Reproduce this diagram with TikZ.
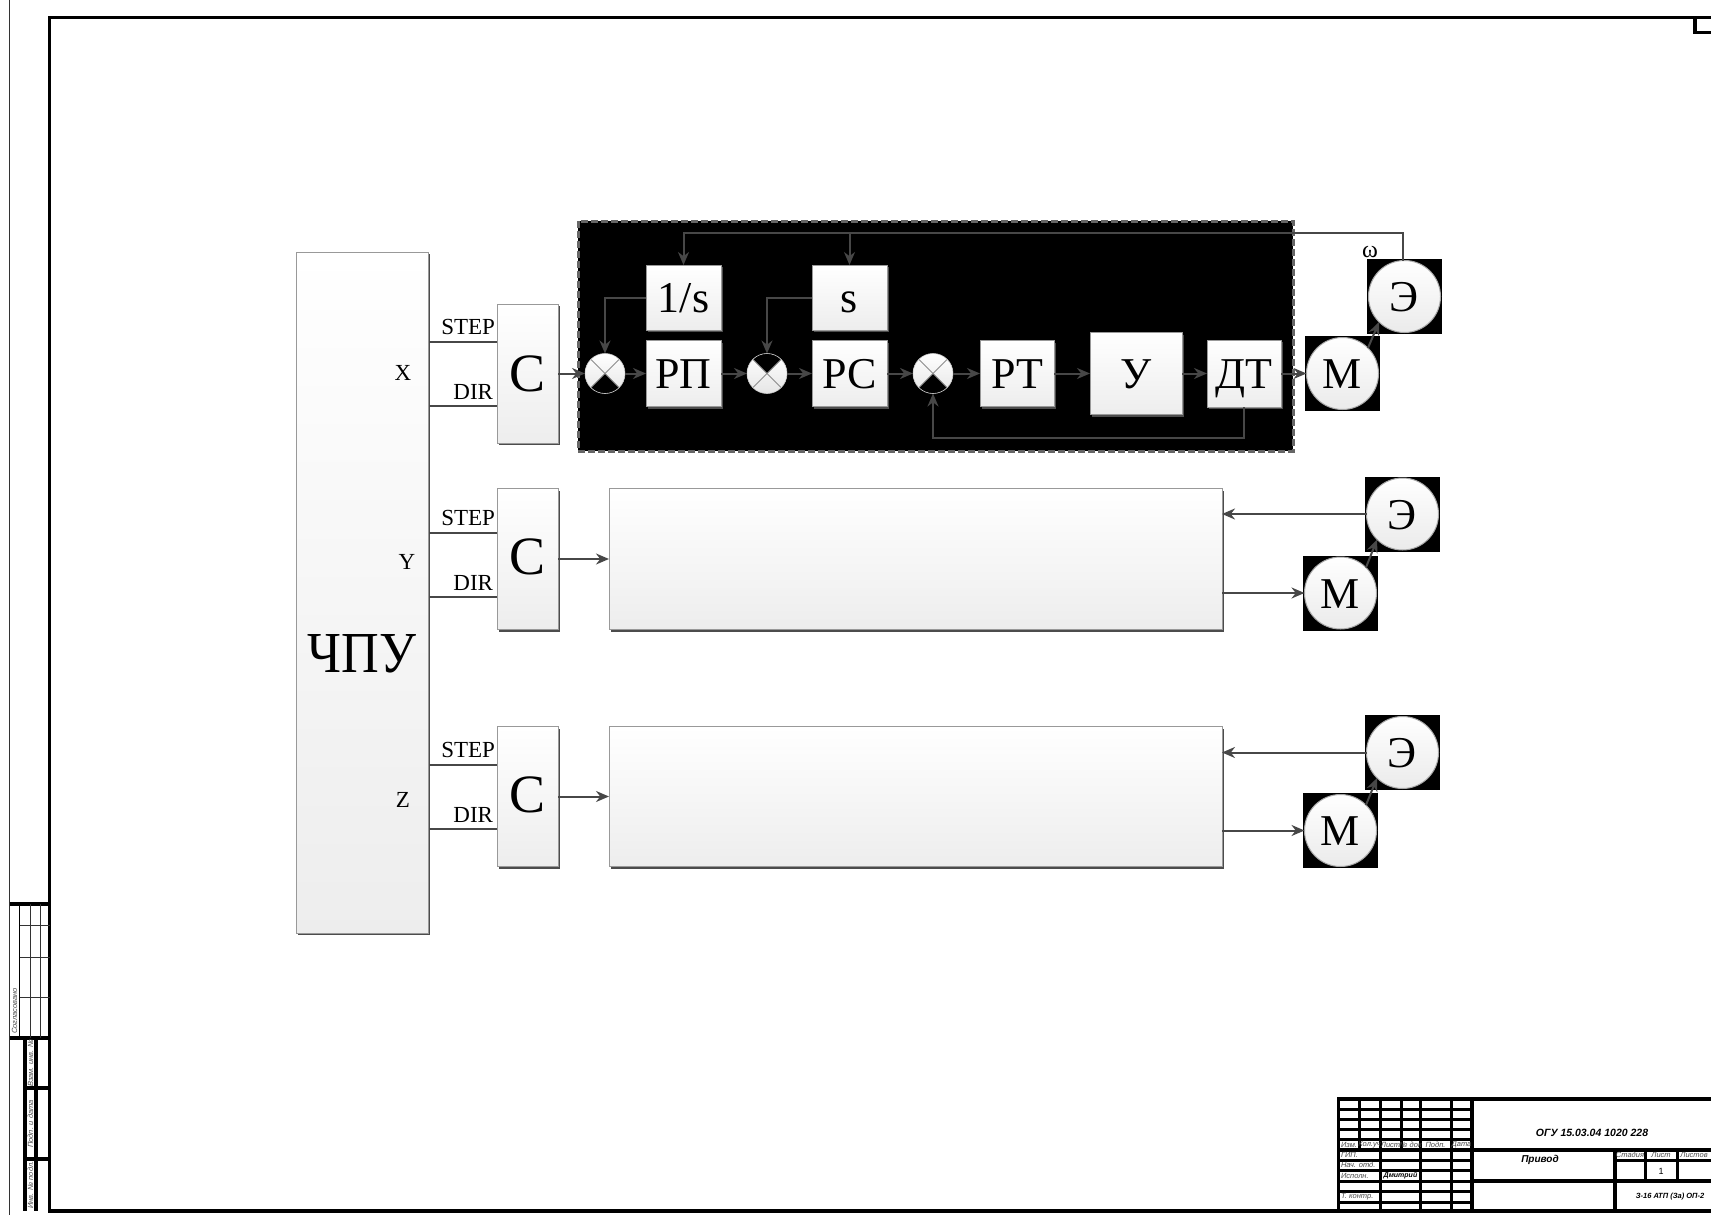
\documentclass[tikz,border=0pt]{standalone}
\usepackage{fontspec}
\setmainfont{Liberation Serif}
\setsansfont{Liberation Sans}
\usetikzlibrary{arrows.meta,shadows}
\tikzset{
  blockbox/.style={rectangle,draw=black!40,line width=.9pt,inner sep=0pt,outer sep=0pt,
    top color=white,bottom color=black!7,
    drop shadow={shadow xshift=2pt,shadow yshift=-2pt,fill=black!70,opacity=1},
    text height=30pt,text depth=0pt,
    font=\fontsize{44}{44}\selectfont},
  letterbox/.style={blockbox,text height=36pt,font=\fontsize{54}{54}\selectfont},
  disc/.style={circle,draw=black!35,line width=1pt,inner sep=0pt,outer sep=0pt,minimum size=72pt,
    top color=white,bottom color=black!8,
    text height=30pt,text depth=0pt,font=\fontsize{44}{44}\selectfont},
  backsquare/.style={rectangle,fill=black,inner sep=0pt,outer sep=0pt,minimum size=75pt},
  sumnode/.style={circle,draw=black!20,line width=.6pt,inner sep=0pt,outer sep=0pt,minimum size=40pt,
    top color=white,bottom color=black!10,
    path picture={
      \fill[black] (path picture bounding box.#1 west) -- (path picture bounding box.center)
        -- (path picture bounding box.#1 east) -- cycle;
      \draw[black!45,line width=.8pt] (path picture bounding box.north west) -- (path picture bounding box.south east);
      \draw[black!45,line width=.8pt] (path picture bounding box.north east) -- (path picture bounding box.south west);
    }},
  arrowline/.style={draw=black!72,line width=2pt,-{Stealth[length=13pt,width=11pt]}},
  plainline/.style={draw=black!72,line width=2pt},
  signal/.style={font=\fontsize{23}{23}\selectfont,inner sep=0pt,outer sep=0pt},
  frameline/.style={line width=3.2pt,black},
  gridline/.style={line width=3pt,black},
  thinline/.style={line width=1pt,black!80},
  stamp/.style={font=\sffamily\itshape\fontsize{7.5}{7.5}\selectfont,text=black!70,inner sep=0pt,outer sep=0pt},
  stampbold/.style={font=\sffamily\bfseries\itshape\fontsize{#1}{#1}\selectfont,inner sep=0pt,outer sep=0pt},
}
\begin{document}
\begin{tikzpicture}[x=1pt,y=-1pt]
  \useasboundingbox (0,0) rectangle (1711,1215);
  \fill[white] (0,0) rectangle (1711,1215);

  % sheet frame
  \draw[thinline] (9.5,0) -- (9.5,1215);
  \draw[frameline] (1711,17.5) -- (49.5,17.5) -- (49.5,1211) -- (1711,1211);
  \draw[frameline] (1695,17.5) -- (1695,32.5) -- (1711,32.5);

  % left margin stamp
  \draw[frameline] (9.5,904) -- (49.5,904);
  \draw[frameline] (9.5,1038) -- (49.5,1038);
  \draw[line width=1.6pt] (19.5,904) -- (19.5,1038);
  \draw[thinline] (30,904) -- (30,1038);
  \draw[thinline] (40,904) -- (40,1038);
  \foreach \yy in {925,957,997} \draw[thinline] (19.5,\yy) -- (49.5,\yy);
  \draw[frameline] (25,1038) -- (25,1211);
  \draw[frameline] (36,1038) -- (36,1211);
  \draw[frameline] (25,1088) -- (49.5,1088);
  \draw[frameline] (25,1159) -- (49.5,1159);
  \node[stamp,rotate=90] (agreed) at (14.5,1011) {Согласовано};
  \node[stamp,rotate=90] (inv1) at (30.5,1063) {Взам. инв. №};
  \node[stamp,rotate=90] (inv2) at (30.5,1124) {Подп. и дата};
  \node[stamp,rotate=90] (inv3) at (30.5,1185) {Инв. № подл.};

  % title block
  \draw[frameline] (1711,1099) -- (1338.5,1099) -- (1338.5,1211);
  \foreach \xx in {1359,1401} \draw[gridline] (\xx,1099) -- (\xx,1150);
  \foreach \xx in {1380,1420,1451} \draw[gridline] (\xx,1099) -- (\xx,1211);
  \draw[frameline] (1472,1099) -- (1472,1211);
  \foreach \yy in {1109,1119,1129,1139,1160,1170,1191,1202} \draw[gridline] (1338.5,\yy) -- (1472,\yy);
  \draw[gridline] (1338.5,1181) -- (1472,1181);
  \draw[frameline] (1338.5,1150) -- (1711,1150);
  \draw[frameline] (1472,1181) -- (1711,1181);
  \draw[frameline] (1615,1150) -- (1615,1211);
  \draw[gridline] (1615,1160) -- (1711,1160);
  \draw[gridline] (1645,1150) -- (1645,1181);
  \draw[gridline] (1677,1150) -- (1677,1181);
  \node[stamp] (hdra) at (1349,1145) {Изм.};
  \node[stamp] (hdrb) at (1369.5,1145) {Кол.уч};
  \node[stamp] (hdrc) at (1390.5,1145) {Лист};
  \node[stamp] (hdrd) at (1410.5,1145) {№ док};
  \node[stamp] (hdre) at (1435.5,1145) {Подп.};
  \node[stamp] (hdrf) at (1461.5,1145) {Дата};
  \node[stamp,anchor=west] (rowa) at (1341,1155) {ГИП.};
  \node[stamp,anchor=west] (rowb) at (1341,1165) {Нач. отд.};
  \node[stamp,anchor=west] (rowc) at (1341,1175.5) {Исполн.};
  \node[stamp,anchor=west] (rowd) at (1341,1196.5) {Т. контр.};
  \node[stampbold=7] (student) at (1400.5,1175.5) {Дмитрий};
  \node[stamp] (hdrg) at (1630,1155) {Стадия};
  \node[stamp] (hdrh) at (1661,1155) {Лист};
  \node[stamp] (hdri) at (1694,1155) {Листов};
  \node[font=\sffamily\fontsize{9}{9}\selectfont,inner sep=0pt] (sheetno) at (1661,1171) {1};
  \node[stampbold=10.5] (docno) at (1592,1133) {ОГУ 15.03.04 1020 228};
  \node[stampbold=10] (doctitle) at (1540,1160) {Привод};
  \node[stampbold=7.5] (group) at (1670,1197) {З-16 АТП (За) ОП-2};

  % controller
  \node[blockbox,minimum width=132pt,minimum height=681pt] (cnc) at (362,592.5) {};
  \node[font=\fontsize{58}{58}\selectfont,inner sep=0pt,xscale=.9] (cnclabel) at (362,654) {ЧПУ};
  \node[signal] (axx) at (403,373) {X};
  \node[signal] (axy) at (407,562) {Y};
  \node[signal] (axz) at (403,800) {Z};

  % axis X
  \fill[black] (578,221) rectangle (1293,451);
  \draw[black!60,line width=3pt,dash pattern=on 7pt off 3pt] (578,221) rectangle (1293,451);
  \node[letterbox,minimum width=61pt,minimum height=139pt] (c1) at (527.5,373.5) {С};
  \node[sumnode=south] (sum1) at (605,373.5) {};
  \node[blockbox,minimum width=75pt,minimum height=66pt] (rp) at (683.5,373.5) {РП};
  \node[blockbox,minimum width=75pt,minimum height=65pt] (int) at (683.5,297.5) {1/s};
  \node[sumnode=north] (sum2) at (767,373.5) {};
  \node[blockbox,minimum width=75pt,minimum height=66pt] (rs) at (849.5,373.5) {РС};
  \node[blockbox,minimum width=75pt,minimum height=65pt] (diff) at (849.5,297.5) {s};
  \node[sumnode=south] (sum3) at (933,373.5) {};
  \node[blockbox,minimum width=74pt,minimum height=66pt] (rt) at (1017,373.5) {РТ};
  \node[blockbox,minimum width=92pt,minimum height=82pt] (amp) at (1136,373.5) {У};
  \node[blockbox,minimum width=74pt,minimum height=67pt] (dt) at (1244,373.5) {ДТ};
  \node[backsquare] (mback1) at (1342.5,373.5) {};
  \node[disc] (m1) at (mback1) {М\hspace{4pt}};
  \node[backsquare] (eback1) at (1404.5,296.5) {};
  \node[disc] (e1) at (eback1) {Э\hspace{7pt}};
  \node[font=\fontsize{24}{24}\selectfont,inner sep=0pt] (omega) at (1370,252) {ω};
  \coordinate (fb) at (1403,233);
  \coordinate (stepx) at (429,342);
  \coordinate (dirx) at (429,406);
  \draw[plainline] (stepx) -- (stepx -| c1.west);
  \draw[plainline] (dirx) -- (dirx -| c1.west);
  \node[signal,anchor=base east] (stepxl) at (495,334) {STEP};
  \node[signal,anchor=base east] (dirxl) at (493,399) {DIR};
  \draw[arrowline] (c1) -- (sum1);
  \draw[arrowline] (sum1) -- (rp);
  \draw[arrowline] (rp) -- (sum2);
  \draw[arrowline] (sum2) -- (rs);
  \draw[arrowline] (rs) -- (sum3);
  \draw[arrowline] (sum3) -- (rt);
  \draw[arrowline] (rt) -- (amp);
  \draw[arrowline] (amp) -- (dt);
  \draw[arrowline] (dt) -- (m1);
  \draw[arrowline] (m1.north east) -- (e1.south west);
  \draw[arrowline] (int.west) -| (sum1.north);
  \draw[arrowline] (diff.west) -| (sum2.north);
  \draw[arrowline] (dt.south) -- ++(0,30.5) -| (sum3.south);
  \draw[arrowline] (fb |- e1.north) -- (fb) -- (fb -| int.north) -- (int.north);
  \draw[arrowline] (fb -| diff.north) -- (diff.north);

  % axis Y
  \node[letterbox,text height=31pt,minimum width=61pt,minimum height=141pt] (c2) at (527.5,559) {С};
  \node[blockbox,minimum width=613pt,minimum height=141pt] (drv2) at (915.5,559) {};
  \node[backsquare] (mback2) at (1340.5,593) {};
  \node[disc] (m2) at (mback2) {М\hspace{4pt}};
  \node[backsquare] (eback2) at (1402.5,514) {};
  \node[disc] (e2) at (eback2) {Э\hspace{7pt}};
  \coordinate (stepy) at (429,532.5);
  \coordinate (diry) at (429,596.5);
  \draw[plainline] (stepy) -- (stepy -| c2.west);
  \draw[plainline] (diry) -- (diry -| c2.west);
  \node[signal,anchor=base east] (stepyl) at (495,525) {STEP};
  \node[signal,anchor=base east] (diryl) at (493,590) {DIR};
  \draw[arrowline] (c2) -- (drv2);
  \draw[arrowline] (e2) -- (e2 -| drv2.east);
  \draw[arrowline] (m2 -| drv2.east) -- (m2);
  \draw[arrowline] (m2.north east) -- (e2.south west);

  % axis Z
  \node[letterbox,text height=32pt,minimum width=61pt,minimum height=140pt] (c3) at (527.5,796.5) {С};
  \node[blockbox,minimum width=613pt,minimum height=140pt] (drv3) at (915.5,796.5) {};
  \node[backsquare] (mback3) at (1340.5,830.5) {};
  \node[disc] (m3) at (mback3) {М\hspace{4pt}};
  \node[backsquare] (eback3) at (1402.5,752.5) {};
  \node[disc] (e3) at (eback3) {Э\hspace{7pt}};
  \coordinate (stepz) at (429,765);
  \coordinate (dirz) at (429,829);
  \draw[plainline] (stepz) -- (stepz -| c3.west);
  \draw[plainline] (dirz) -- (dirz -| c3.west);
  \node[signal,anchor=base east] (stepzl) at (495,757) {STEP};
  \node[signal,anchor=base east] (dirzl) at (493,822) {DIR};
  \draw[arrowline] (c3) -- (drv3);
  \draw[arrowline] (e3) -- (e3 -| drv3.east);
  \draw[arrowline] (m3 -| drv3.east) -- (m3);
  \draw[arrowline] (m3.north east) -- (e3.south west);
\end{tikzpicture}
\end{document}
